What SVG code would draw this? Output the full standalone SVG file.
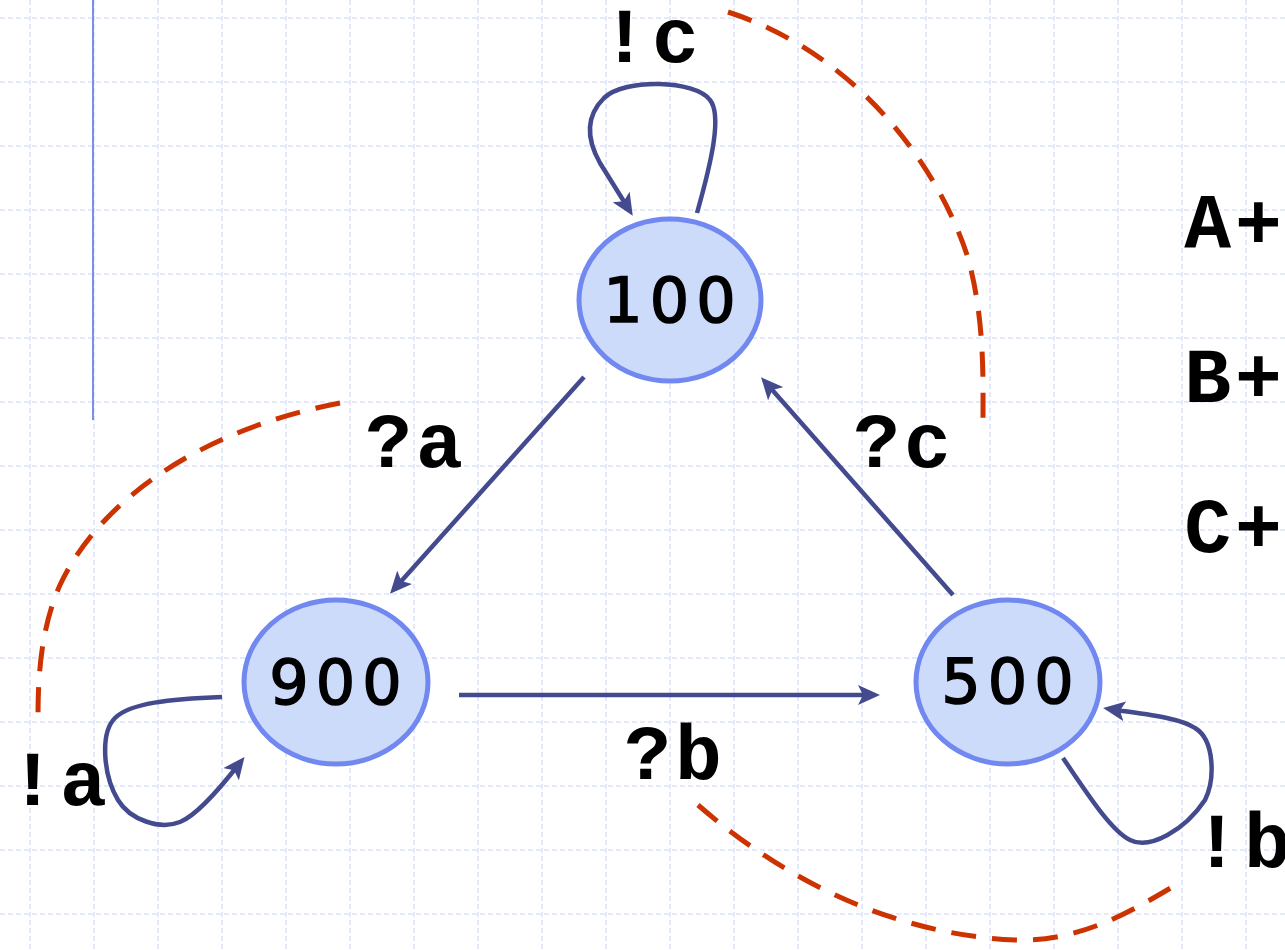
<svg xmlns="http://www.w3.org/2000/svg" width="1285" height="950" viewBox="0 0 1285 950">
  <style>
    .grid { stroke: #dde3fa; stroke-width: 1.6; stroke-dasharray: 5 3; fill: none; }
    .node ellipse { fill: #cddbfb; stroke: #7088f0; stroke-width: 5; }
    .node text { font-family: "DejaVu Sans", sans-serif; font-weight: normal; font-size: 62px; letter-spacing: 7px; fill: #000; text-anchor: middle; stroke: #000; stroke-width: 1.6; }
    .edge { stroke: #434a8e; stroke-width: 4.5; fill: none; marker-end: url(#arrow); }
    .dash { stroke: #cc3300; stroke-width: 5; fill: none; stroke-dasharray: 25 16; }
    .lbl { font-family: "Liberation Mono", "Courier New", monospace; font-weight: bold; font-size: 78px; letter-spacing: 4px; fill: #000; text-anchor: middle; }
  </style>
  <defs>
    <marker id="arrow" viewBox="0 0 22 20" refX="13" refY="10" markerWidth="22" markerHeight="20" markerUnits="userSpaceOnUse" orient="auto">
      <path d="M0,0 L22,10 L0,20 L5,10 z" fill="#434a8e"/>
    </marker>
  </defs>
  <rect width="1285" height="950" fill="#ffffff"/>
  <g id="grid">
    <path class="grid" d="M30,0V950 M94,0V950 M158,0V950 M222,0V950 M286,0V950 M350,0V950 M414,0V950 M478,0V950 M542,0V950 M606,0V950 M670,0V950 M734,0V950 M798,0V950 M862,0V950 M926,0V950 M990,0V950 M1054,0V950 M1118,0V950 M1182,0V950 M1246,0V950"/>
    <path class="grid" d="M0,18H1285 M0,82H1285 M0,146H1285 M0,210H1285 M0,274H1285 M0,338H1285 M0,402H1285 M0,466H1285 M0,530H1285 M0,594H1285 M0,658H1285 M0,722H1285 M0,786H1285 M0,850H1285 M0,914H1285"/>
  </g>
  <line x1="93" y1="0" x2="93" y2="420" stroke="#7a8ef0" stroke-width="2"/>
  <g id="connectors">
    <path class="edge" d="M584,377 L396,587"/>
    <path class="edge" d="M953,595 L767,384"/>
    <path class="edge" d="M459,695 L871,695"/>
    <path class="edge" d="M697,213 C 712,160 722,115 710,100 C 695,80 625,78 604,98 C 585,117 587,140 600,163 L 628,208"/>
    <path class="edge" d="M222,697 C 170,699 130,703 115,718 C 100,733 103,775 118,800 C 130,820 160,830 180,822 C 195,816 214,796 239,764"/>
    <path class="edge" d="M1063,758 C 1085,790 1110,830 1130,840 C 1150,850 1185,830 1205,800 C 1215,780 1215,740 1195,728 C 1180,718 1150,715 1112,709.4"/>
    <path class="dash" d="M728,12 C 860,55 940,170 968,258 C 985,320 983,380 983,425"/>
    <path class="dash" d="M340,403 C 200,430 100,500 60,585 C 40,630 38,680 38,718"/>
    <path class="dash" d="M698,805 C 790,885 900,935 1015,940 C 1080,942 1130,912 1174,886"/>
  </g>
  <g id="node-100" class="node">
    <ellipse cx="670" cy="300" rx="91" ry="81"/>
    <text x="673" y="322">100</text>
  </g>
  <g id="node-900" class="node">
    <ellipse cx="336" cy="682" rx="92" ry="82"/>
    <text x="339" y="704">900</text>
  </g>
  <g id="node-500" class="node">
    <ellipse cx="1008" cy="682" rx="92" ry="82"/>
    <text x="1011" y="703">500</text>
  </g>
  <g id="labels">
    <text class="lbl" x="652" y="62">!c</text>
    <text class="lbl" x="416" y="467">?a</text>
    <text class="lbl" x="904" y="467">?c</text>
    <text class="lbl" x="675" y="779">?b</text>
    <text class="lbl" x="60" y="805">!a</text>
    <text class="lbl" x="1244" y="867">!b</text>
    <text class="lbl" x="1235" y="248">A+</text>
    <text class="lbl" x="1235" y="402">B+</text>
    <text class="lbl" x="1235" y="552">C+</text>
  </g>
</svg>
